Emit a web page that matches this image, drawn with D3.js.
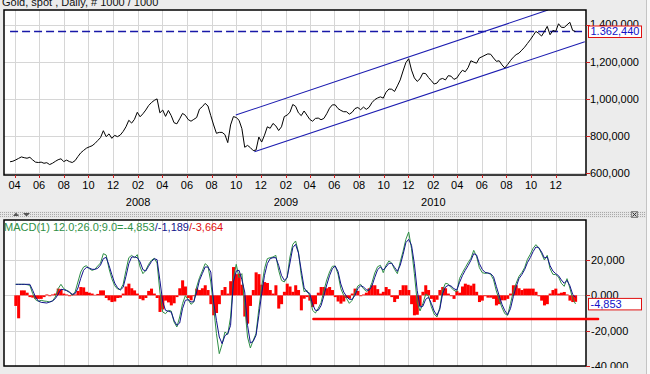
<!DOCTYPE html>
<html>
<head>
<meta charset="utf-8">
<script src="https://cdn.jsdelivr.net/npm/d3@7"></script>
<style>
  html, body { margin: 0; padding: 0; background: #ececec; }
  svg { display: block; font-family: "Liberation Sans", Arial, sans-serif; font-size: 11px; }
</style>
</head>
<body>
<script>
const title = 'Gold, spot , Daily, # 1000 / 1000'
const firstWeek = new Date(2007, 2, 21) // one value per week from here

// weekly gold spot, x1000
const price = [
  662000, 665000, 672000, 680000, 688000, 684000, 681000, 686000, 672000, 660000,
  658000, 660000, 654000, 657000, 647000, 654000, 664000, 673000, 678000, 663000,
  671000, 663000, 658000, 668000, 690000, 710000, 723000, 735000, 742000, 748000,
  760000, 776000, 792000, 829000, 797000, 812000, 788000, 804000, 797000, 806000,
  825000, 850000, 885000, 870000, 890000, 928000, 904000, 920000, 940000, 964000,
  980000, 992000, 1000000, 925000, 940000, 906000, 938000, 910000, 872000, 866000,
  893000, 922000, 912000, 889000, 880000, 890000, 900000, 945000, 958000, 976000,
  962000, 910000, 860000, 815000, 820000, 820000, 808000, 765000, 860000, 905000,
  900000, 885000, 840000, 740000, 750000, 738000, 722000, 725000, 795000, 768000,
  805000, 850000, 842000, 868000, 855000, 830000, 850000, 905000, 913000, 928000,
  970000, 960000, 925000, 910000, 935000, 913000, 890000, 880000, 895000, 897000,
  888000, 895000, 920000, 950000, 968000, 968000, 948000, 938000, 931000, 931000,
  918000, 928000, 948000, 954000, 942000, 956000, 944000, 955000, 980000, 996000,
  1005000, 1011000, 1004000, 1036000, 1053000, 1052000, 1040000, 1070000, 1102000, 1150000,
  1195000, 1216000, 1155000, 1113000, 1094000, 1108000, 1138000, 1136000, 1115000, 1098000,
  1080000, 1085000, 1105000, 1110000, 1102000, 1125000, 1122000, 1105000, 1112000, 1135000,
  1154000, 1146000, 1168000, 1205000, 1198000, 1192000, 1220000, 1227000, 1235000, 1242000,
  1240000, 1220000, 1202000, 1205000, 1183000, 1166000, 1185000, 1206000, 1224000, 1238000,
  1246000, 1262000, 1278000, 1298000, 1318000, 1340000, 1363000, 1352000, 1338000, 1362000,
  1390000, 1345000, 1368000, 1363000, 1404000, 1385000, 1384000, 1398000, 1412000, 1368000,
  1362440
]

// MACD(12,26,9) line (green)
const macd = [
  null, null, 6230, 6230, 6230, 6230, 6040, 5660, 940, -2450,
  -3400, -2830, -3210, -3400, -3770, -3210, -940, 3770, 6230, 3770,
  2830, 2080, 0, 1890, 7550, 13210, 16040, 16790, 15100, 14150,
  14720, 16610, 18300, 23590, 22830, 15100, 9440, 5470, 3590, 3210,
  6230, 14150, 21320, 22640, 21320, 23020, 16040, 12270, 14150, 17550,
  19810, 20950, 18300, 1890, -9440, -10380, -8490, -8870, -15100, -17930,
  -12270, -4720, -190, -2450, -5090, -3770, 4720, 10000, 13780, 17930,
  16610, 7550, -6600, -21700, -33020, -27740, -20760, -22080, -12270, 9440,
  17550, 10000, 12270, -6230, -23590, -29810, -25470, -21700, -7550, 4720,
  15100, 20760, 21320, 21700, 22640, 14150, 8490, 7550, 10000, 21700,
  28870, 30760, 24530, 11320, 2080, 2830, -190, -8490, -10000, -7360,
  -4150, 2640, 8680, 13210, 16420, 16610, 12080, 3770, 0, -1700,
  -4530, -2830, 1320, 5280, 6230, 3770, 2260, 3020, 7170, 12640,
  16230, 16980, 12830, 16980, 19440, 18300, 14720, 12270, 18870, 24910,
  31700, 35850, 26420, 12270, -3770, -8870, -4720, 570, -190, -6420,
  -10570, -12270, -6980, 3020, 6790, 6420, 4340, 2830, 2080, 9620,
  12830, 15660, 18490, 20950, 25470, 22080, 15660, 12830, 12450, 12640,
  11890, 8870, 2450, -2450, -6980, -10380, -11320, -4720, 2080, 6790,
  10760, 12830, 15660, 20380, 23210, 26610, 28680, 26980, 23590, 20000,
  22640, 15100, 11890, 11700, 10380, 6790, 5090, 9440, 4150, -1890,
  -4853
]

// signal line (blue)
const signal = [
  null, null, 6230, 6230, 6230, 6230, 6230, 6230, 2830, -940,
  -3210, -3960, -4150, -4340, -3770, -3210, -1890, 570, 3400, 3210,
  2640, 1700, 570, 940, 4150, 9620, 14150, 15850, 15470, 14720,
  14720, 15280, 17170, 20760, 21510, 16980, 11700, 6980, 4340, 3020,
  4530, 10760, 17930, 21700, 21700, 21320, 18870, 14530, 13780, 16420,
  19060, 20760, 20190, 8490, -3770, -8490, -9060, -9440, -14150, -16980,
  -15660, -7550, -2830, -2450, -3770, -3590, 1890, 8490, 12270, 16040,
  16040, 13210, -3770, -14150, -23590, -27360, -22830, -21700, -16980, 7550,
  13780, 14150, 8870, 1890, -16980, -26980, -26040, -22640, -11320, 940,
  11320, 17930, 20760, 21320, 21320, 16980, 11320, 8490, 10000, 18300,
  26980, 28870, 23970, 14150, 4340, 1890, 1130, -5090, -8490, -8490,
  -5850, -190, 5850, 11130, 15100, 16610, 13590, 6420, 1890, -570,
  -2260, -2260, 0, 3770, 5470, 4720, 3210, 2830, 5280, 10190,
  14530, 16040, 14340, 16040, 18120, 18120, 15850, 13590, 16980, 23020,
  29810, 31700, 28300, 17930, 2830, -6600, -6230, -2260, -1130, -4530,
  -8870, -11320, -7930, 940, 4720, 5660, 5280, 3770, 3020, 7360,
  11130, 14150, 16790, 19810, 23590, 22830, 17930, 14720, 13020, 12640,
  12270, 10570, 5090, -190, -5090, -8680, -10940, -7550, -750, 4720,
  9440, 11700, 14530, 18490, 21320, 24720, 27360, 26980, 24530, 21130,
  21700, 16790, 13780, 12270, 11130, 8680, 6790, 8490, 5470, 570,
  -1189
]

// histogram (red)
const hist = [
  null, null, -6000, -13000, 2800, 2800, 1500, -1000, -1300, -2000,
  -2000, -2000, -1000, 500, -500, 500, 1000, 3800, 3500, 1000,
  500, -500, 800, 500, 2500, 4700, 4500, 2000, 1500, 1000,
  300, 800, 2800, 2800, -1500, -2800, -3800, -3500, -1500, -1300,
  1000, 5000, 6600, 4000, 2800, 1000, -2000, -2800, -1500, 2500,
  3800, 1000, -1500, -9400, -8000, -3000, -4000, -5700, -4500, -1000,
  4000, 8500, 5000, -1500, -2800, -500, 3800, 3000, 4000, 5700,
  3000, -5000, -11300, -10000, -5000, 3000, 4700, 1000, 8000, 16000,
  12000, 12300, 6000, -12000, -16000, -6000, 3000, 13000, 12000, 6000,
  7500, 7000, 3000, 1000, 5700, -7500, -5000, 2000, 6600, 5000,
  2000, 5700, 3000, -8500, -1900, -1000, -3000, -6600, -5000, 1500,
  4700, 4700, 4000, 4700, 3000, -1000, -3500, -4700, -3500, -1500,
  -1900, 1000, 3800, 2500, -500, 500, 1500, 4000, 5700, 5700,
  3500, 1000, 2000, 4700, 3500, -1000, -3800, -2000, 3000, 5700,
  5700, 3000, -5000, -11300, -11000, -6000, 2000, 5700, 3000, -2000,
  -3800, -2500, 3000, 4700, 4000, 1000, -500, -2000, 2500, 1500,
  5000, 6600, 6000, 5500, 6600, 2000, -3800, -3000, -500, -1300,
  -1300, -2000, -5700, -5000, -2800, -2800, -2000, 1000, 5700, 5700,
  4000, 3000, 3800, 3800, 3800, 3800, 2000, -500, -3000, -5700,
  -5000, 1000, 3000, 3800, 1000, 1500, 1900, 500, -3000, -3800,
  -3664
]

const monthTicks = ['2007-04', '2007-06', '2007-08', '2007-10', '2007-12',
  '2008-02', '2008-04', '2008-06', '2008-08', '2008-10', '2008-12',
  '2009-02', '2009-04', '2009-06', '2009-08', '2009-10', '2009-12',
  '2010-02', '2010-04', '2010-06', '2010-08', '2010-10', '2010-12']
const yearLabels = ['2008', '2009', '2010']
const priceTicks = [600000, 800000, 1000000, 1200000, 1400000]
const macdTicks = [-40000, -20000, 0, 20000]
const macdTickLabels = ['-40,000', '-20,000', '0,000', '20,000']
const lastPrice = 1362440
const lastPriceLabel = '1.362,440'
const lastMacd = -4853
const lastMacdLabel = '-4,853'
const legendParts = ['MACD(1) 12.0;26.0;9.0=-4,853', '/-1,189', '/-3,664']

// drawn trend lines
const channelUpper = [['2008-09-30', 913000], ['2010-11-12', 1478000]]
const channelLower = [['2008-11-15', 716000], ['2011-02-11', 1307500]]
const macdSupport = [['2009-04-10', -13400], ['2011-03-16', -13400]]

const width = 650
const height = 374
const green = '#2f8f46'
const navy = '#12128c'
const red = '#ff0000'

const parseDay = d3.timeParse('%Y-%m-%d')
const parseMonth = d3.timeParse('%Y-%m')
const dates = price.map((d, i) => d3.timeDay.offset(firstWeek, 7 * i))

const x = d3.scaleTime()
  .domain([new Date(2007, 2, 6), new Date(2011, 1, 14)])
  .range([4, 586])
const y = d3.scaleLinear().domain([600000, 1400000]).range([173.3, 24.5])
const ym = d3.scaleLinear().domain([-40000, 20000]).range([366, 260])

const pricePanel = { y0: 10, y1: 175 }
const macdPanel = { y0: 220, y1: 366 }

const svg = d3.select('body')
  .append('svg')
  .attr('width', width)
  .attr('height', height)

const defs = svg.append('defs')
defs.append('clipPath').attr('id', 'clipTop')
  .append('rect').attr('x', 4).attr('y', pricePanel.y0).attr('width', 582).attr('height', pricePanel.y1 - pricePanel.y0)
defs.append('clipPath').attr('id', 'clipLow')
  .append('rect').attr('x', 4).attr('y', macdPanel.y0).attr('width', 582).attr('height', macdPanel.y1 - macdPanel.y0)
defs.append('clipPath').attr('id', 'clipAxis')
  .append('rect').attr('x', 586).attr('y', 0).attr('width', 64).attr('height', 368)
const pat = defs.append('pattern').attr('id', 'dots')
  .attr('width', 2).attr('height', 2).attr('patternUnits', 'userSpaceOnUse')
pat.append('rect').attr('width', 2).attr('height', 2).attr('fill', '#e6e6e6')
pat.append('rect').attr('width', 1).attr('height', 1).attr('fill', '#a9a9a9')

svg.append('rect').attr('width', width).attr('height', height).attr('fill', '#ececec')
svg.append('line').attr('x1', 646.5).attr('x2', 646.5).attr('y1', 0).attr('y2', height)
  .attr('stroke', '#c4c4c4')
svg.append('rect').attr('x', 647).attr('width', 3).attr('height', height).attr('fill', '#f8f8f8')

// title
svg.append('text').attr('x', 2).attr('y', 6).attr('fill', '#111').text(title)

// ---- price panel ----
svg.append('rect').attr('x', 4).attr('y', pricePanel.y0).attr('width', 582).attr('height', pricePanel.y1 - pricePanel.y0)
  .attr('fill', '#fff')

const tickDates = monthTicks.map(parseMonth)

svg.append('g').selectAll('line')
  .data(tickDates).enter().append('line')
  .attr('x1', d => Math.round(x(d)) + 0.5).attr('x2', d => Math.round(x(d)) + 0.5)
  .attr('y1', pricePanel.y0).attr('y2', pricePanel.y1)
  .attr('stroke', '#d6d6d6')
svg.append('g').selectAll('line')
  .data(priceTicks).enter().append('line')
  .attr('x1', 4).attr('x2', 586)
  .attr('y1', d => Math.round(y(d)) + 0.5).attr('y2', d => Math.round(y(d)) + 0.5)
  .attr('stroke', '#d6d6d6')

const gTop = svg.append('g').attr('clip-path', 'url(#clipTop)')

gTop.append('line')
  .attr('x1', x(dates[0])).attr('x2', 586)
  .attr('y1', y(lastPrice)).attr('y2', y(lastPrice))
  .attr('stroke', '#1818a8').attr('stroke-width', 1.3).attr('stroke-dasharray', '8,4')

gTop.selectAll('.channel')
  .data([channelUpper, channelLower]).enter().append('line')
  .attr('x1', d => x(parseDay(d[0][0]))).attr('y1', d => y(d[0][1]))
  .attr('x2', d => x(parseDay(d[1][0]))).attr('y2', d => y(d[1][1]))
  .attr('stroke', '#1c1cb0').attr('stroke-width', 1.1)

gTop.append('path')
  .datum(price)
  .attr('fill', 'none').attr('stroke', '#000').attr('stroke-width', 1)
  .attr('d', d3.line().x((d, i) => x(dates[i])).y(d => y(d)))

svg.append('rect').attr('x', 4).attr('y', pricePanel.y0).attr('width', 582).attr('height', pricePanel.y1 - pricePanel.y0)
  .attr('fill', 'none').attr('stroke', '#000').attr('stroke-width', 1.5)

// bottom ticks + month labels
svg.append('g').selectAll('line')
  .data(tickDates).enter().append('line')
  .attr('x1', d => Math.round(x(d)) + 0.5).attr('x2', d => Math.round(x(d)) + 0.5)
  .attr('y1', pricePanel.y1).attr('y2', pricePanel.y1 + 3)
  .attr('stroke', '#d02020')
svg.append('g').selectAll('text')
  .data(tickDates).enter().append('text')
  .attr('x', d => x(d)).attr('y', 189)
  .attr('text-anchor', 'middle').attr('fill', '#000')
  .text(d3.timeFormat('%m'))
svg.append('g').selectAll('text')
  .data(yearLabels).enter().append('text')
  .attr('x', d => x(new Date(+d, 1, 1))).attr('y', 205.5)
  .attr('text-anchor', 'middle').attr('fill', '#000')
  .text(d => d)

// right axis, price
svg.append('g').selectAll('line')
  .data(priceTicks).enter().append('line')
  .attr('x1', 586).attr('x2', 590)
  .attr('y1', d => Math.round(y(d)) + 0.5).attr('y2', d => Math.round(y(d)) + 0.5)
  .attr('stroke', '#d02020')
svg.append('g').selectAll('text')
  .data(priceTicks).enter().append('text')
  .attr('x', 590).attr('y', d => y(d)).attr('dy', '0.36em')
  .attr('fill', '#000')
  .text(d3.format(','))

svg.append('rect').attr('x', 588.5).attr('y', y(lastPrice) - 5.5).attr('width', 53).attr('height', 11.5)
  .attr('fill', '#fff').attr('stroke', '#e01010')
svg.append('text').attr('x', 590.5).attr('y', y(lastPrice)).attr('dy', '0.36em')
  .attr('fill', '#1010c8').text(lastPriceLabel)

// ---- splitter ----
svg.append('rect').attr('x', 0).attr('y', 211).attr('width', 646).attr('height', 7)
  .attr('fill', 'url(#dots)')
svg.append('path').attr('d', 'M13,216 L16,212.5 L19,216 Z').attr('fill', '#555')
svg.append('path').attr('d', 'M23,213 L30,213 L26.5,216.5 Z').attr('fill', '#555')
svg.append('rect').attr('x', 631.5).attr('y', 211.5).attr('width', 6).attr('height', 6)
  .attr('fill', '#d0d0d0').attr('stroke', '#888')
svg.append('path').attr('d', 'M632.5,212.5 L636.5,216.5 M636.5,212.5 L632.5,216.5')
  .attr('stroke', '#333')

// ---- MACD panel ----
svg.append('rect').attr('x', 4).attr('y', macdPanel.y0).attr('width', 582).attr('height', macdPanel.y1 - macdPanel.y0)
  .attr('fill', '#fff')
svg.append('g').selectAll('line')
  .data(tickDates).enter().append('line')
  .attr('x1', d => Math.round(x(d)) + 0.5).attr('x2', d => Math.round(x(d)) + 0.5)
  .attr('y1', macdPanel.y0).attr('y2', macdPanel.y1)
  .attr('stroke', '#d6d6d6')
svg.append('g').selectAll('line')
  .data(macdTicks).enter().append('line')
  .attr('x1', 4).attr('x2', 586)
  .attr('y1', d => Math.round(ym(d)) + 0.5).attr('y2', d => Math.round(ym(d)) + 0.5)
  .attr('stroke', '#d6d6d6')

const gLow = svg.append('g').attr('clip-path', 'url(#clipLow)')
const barW = x(dates[1]) - x(dates[0])

gLow.append('g').selectAll('rect')
  .data(hist.map((v, i) => ({ v, date: dates[i] })).filter(d => d.v !== null))
  .enter().append('rect')
  .attr('x', d => x(d.date) - barW / 2)
  .attr('width', barW + 0.2)
  .attr('y', d => Math.min(ym(d.v), ym(0)))
  .attr('height', d => Math.abs(ym(d.v) - ym(0)))
  .attr('fill', red)

const macdLine = d3.line()
  .defined(d => d !== null)
  .x((d, i) => x(dates[i]))
  .y(d => ym(d))

gLow.append('path').datum(macd)
  .attr('fill', 'none').attr('stroke', green).attr('stroke-width', 1)
  .attr('d', macdLine)
gLow.append('path').datum(signal)
  .attr('fill', 'none').attr('stroke', navy).attr('stroke-width', 1)
  .attr('d', macdLine)

svg.append('rect').attr('x', 4).attr('y', macdPanel.y0).attr('width', 582).attr('height', macdPanel.y1 - macdPanel.y0)
  .attr('fill', 'none').attr('stroke', '#000').attr('stroke-width', 1.5)

svg.append('line')
  .attr('x1', x(parseDay(macdSupport[0][0]))).attr('y1', ym(macdSupport[0][1]))
  .attr('x2', x(parseDay(macdSupport[1][0]))).attr('y2', ym(macdSupport[1][1]))
  .attr('stroke', red).attr('stroke-width', 2.4).attr('stroke-linecap', 'round')

// legend
const legend = svg.append('text').attr('x', 4).attr('y', 231)
legend.selectAll('tspan')
  .data(legendParts).enter().append('tspan')
  .attr('fill', (d, i) => [green, navy, '#e01010'][i])
  .text(d => d)

// right axis, MACD
const gAxis = svg.append('g').attr('clip-path', 'url(#clipAxis)')
gAxis.selectAll('line')
  .data(macdTicks).enter().append('line')
  .attr('x1', 586).attr('x2', 590)
  .attr('y1', d => Math.round(ym(d)) + 0.5).attr('y2', d => Math.round(ym(d)) + 0.5)
  .attr('stroke', '#d02020')
gAxis.selectAll('text')
  .data(macdTicks).enter().append('text')
  .attr('x', 591).attr('y', d => ym(d)).attr('dy', '0.36em')
  .attr('fill', '#000')
  .text((d, i) => macdTickLabels[i])

svg.append('rect').attr('x', 588.5).attr('y', ym(lastMacd) - 5.5).attr('width', 53).attr('height', 11.5)
  .attr('fill', '#fff').attr('stroke', '#e01010')
svg.append('text').attr('x', 590.5).attr('y', ym(lastMacd)).attr('dy', '0.36em')
  .attr('fill', '#1010c8').text(lastMacdLabel)
</script>
</body>
</html>
